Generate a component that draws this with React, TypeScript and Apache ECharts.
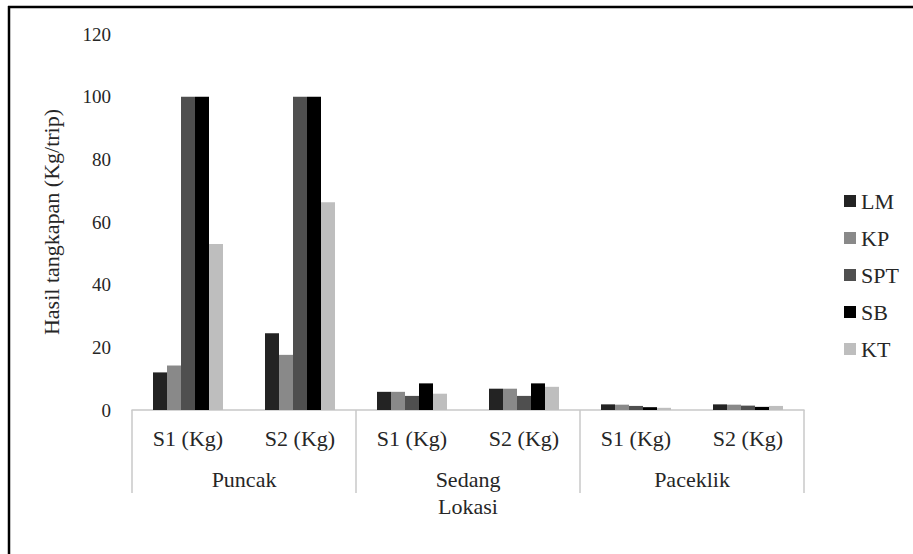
import React, { useEffect, useRef } from "react";
import * as echarts from "echarts";

const categories = ["S1 (Kg)", "S2 (Kg)", "S1 (Kg)", "S2 (Kg)", "S1 (Kg)", "S2 (Kg)"];
const groups = ["Puncak", "Sedang", "Paceklik"];
const seriesNames = ["LM", "KP", "SPT", "SB", "KT"];
const LM = [12, 24.5, 5.8, 6.8, 1.8, 1.8];
const KP = [14.2, 17.6, 5.8, 6.8, 1.7, 1.7];
const SPT = [100, 100, 4.5, 4.5, 1.3, 1.4];
const SB = [100, 100, 8.5, 8.5, 0.9, 1.0];
const KT = [53, 66.3, 5.2, 7.4, 0.7, 1.3];
const seriesValues = [LM, KP, SPT, SB, KT];
const colors = ["#232323", "#898989", "#4f4f4f", "#000000", "#bebebe"];
const yTicks = [0, 20, 40, 60, 80, 100, 120];

const FONT = "Liberation Serif";
const TXT = "#262626";

export default function App() {
  const ref = useRef<HTMLDivElement>(null);
  useEffect(() => {
    const chart = echarts.init(ref.current!, null, { renderer: "svg" });
    chart.setOption({
      animation: false,
      backgroundColor: "#ffffff",
      textStyle: { fontFamily: FONT, color: TXT },
      grid: { left: 132, right: 109, top: 34, bottom: 144, containLabel: false },
      legend: {
        orient: "vertical",
        left: 844,
        top: 190,
        padding: 0,
        itemWidth: 12,
        itemHeight: 12,
        itemGap: 15,
        icon: "rect",
        data: seriesNames,
        textStyle: { fontFamily: FONT, fontSize: 22, color: TXT },
      },
      xAxis: [
        {
          type: "category",
          data: categories,
          position: "bottom",
          axisLine: { show: true, lineStyle: { color: "#c8c8c8", width: 1.5 } },
          axisTick: { show: false },
          axisLabel: { fontFamily: FONT, fontSize: 22, color: TXT, margin: 17, interval: 0 },
        },
        {
          type: "category",
          data: groups,
          position: "bottom",
          axisLine: { show: false },
          axisTick: { show: true, length: 83, interval: 0, lineStyle: { color: "#c8c8c8", width: 1.5 } },
          axisLabel: { fontFamily: FONT, fontSize: 22, color: TXT, margin: 58, interval: 0 },
          name: "Lokasi",
          nameLocation: "middle",
          nameGap: 85,
          nameTextStyle: { fontFamily: FONT, fontSize: 22, color: TXT },
        },
      ],
      yAxis: {
        type: "value",
        min: yTicks[0],
        max: yTicks[yTicks.length - 1],
        interval: 20,
        axisLine: { show: false },
        axisTick: { show: false },
        splitLine: { show: false },
        axisLabel: { fontFamily: FONT, fontSize: 19, color: TXT, margin: 21 },
        name: "Hasil tangkapan (Kg/trip)",
        nameLocation: "middle",
        nameGap: 70,
        nameTextStyle: { fontFamily: FONT, fontSize: 22, color: TXT },
      },
      series: seriesNames.map((n, i) => ({
        name: n,
        type: "bar",
        xAxisIndex: 0,
        data: seriesValues[i],
        barWidth: 14,
        barGap: "0%",
        itemStyle: { color: colors[i] },
      })),
      graphic: [
        { type: "line", shape: { x1: 8, y1: 7, x2: 913, y2: 7 }, style: { stroke: "#000", lineWidth: 2.5 } },
        { type: "line", shape: { x1: 9, y1: 6, x2: 9, y2: 554 }, style: { stroke: "#000", lineWidth: 2.5 } },
      ],
    });
    return () => chart.dispose();
  }, []);
  return (
    <div
      ref={ref}
      style={{ position: "absolute", left: 0, top: 0, width: 913, height: 554 }}
    />
  );
}
